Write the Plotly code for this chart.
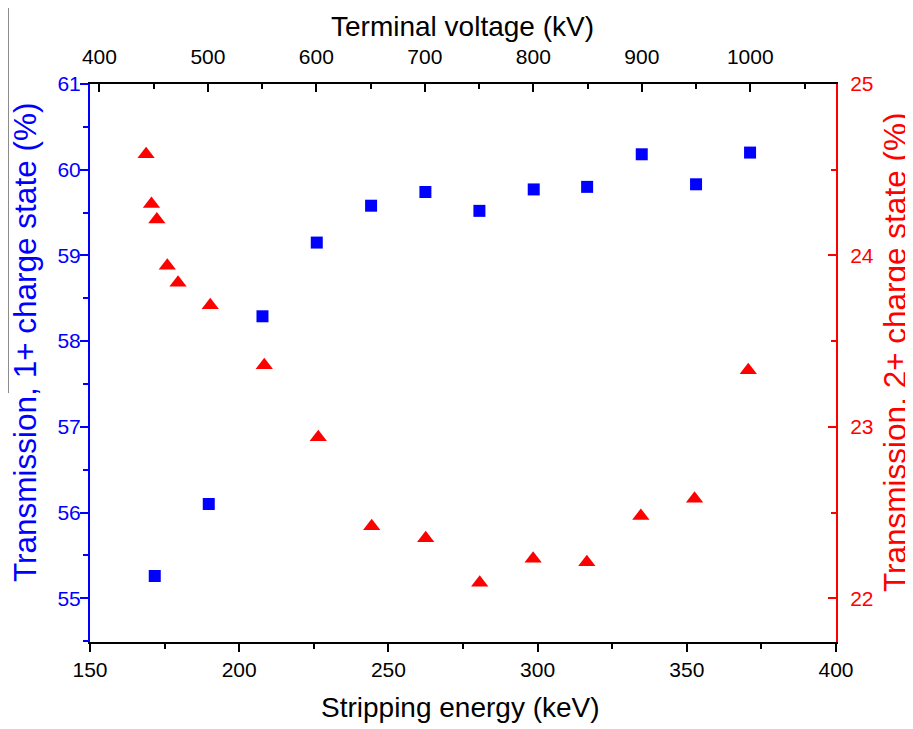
import plotly.graph_objects as go

# Data
energy_1p = [171.7, 189.8, 207.8, 226.0, 244.2, 262.4, 280.5, 298.7, 316.6, 334.9, 353.1, 371.2]
trans_1p = [55.26, 56.10, 58.29, 59.15, 59.58, 59.74, 59.52, 59.77, 59.80, 60.18, 59.83, 60.20]
terminal_voltage = [450, 500, 550, 600, 650, 700, 750, 800, 850, 900, 950, 1000]

energy_2p = [168.8, 170.6, 172.4, 175.9, 179.5, 190.3, 208.4, 226.5, 244.4, 262.5, 280.6,
             298.5, 316.5, 334.6, 352.6, 370.6]
trans_2p = [24.59, 24.30, 24.21, 23.94, 23.84, 23.71, 23.36, 22.94, 22.42, 22.35, 22.09,
            22.23, 22.21, 22.48, 22.58, 23.33]

title_bottom = "Stripping energy (keV)"
title_top = "Terminal voltage (kV)"
title_left = "Transmission, 1+ charge state (%)"
title_right = "Transmission, 2+ charge state (%)"

FONT = "Liberation Sans, Arial, sans-serif"
BLUE = "#0000FF"
RED = "#FF0000"

# The page body has an 8px margin: lay the figure out in page pixels, then offset.
OFF = 8
W, H = 913 - OFF, 729 - OFF
PL, PR, PT, PB = 90, 836, 84, 642          # plot area in page pixels
L, R, T, B = PL - OFF, W - (PR - OFF), PT - OFF, H - (PB - OFF)
PW, PH = W - L - R, H - T - B


def px_to_paper_x(px):
    return (px - OFF - L) / PW


def px_to_paper_y(py):
    return (H - B - (py - OFF)) / PH


fig = go.Figure()
fig.add_trace(go.Scatter(x=energy_1p, y=trans_1p, mode="markers", xaxis="x", yaxis="y",
                         marker=dict(symbol="square", size=12, color=BLUE), showlegend=False))
fig.add_trace(go.Scatter(x=energy_2p, y=trans_2p, mode="markers", xaxis="x", yaxis="y2",
                         marker=dict(symbol="triangle-up", size=15, color=RED), showlegend=False))
# invisible trace so the top (terminal voltage) axis is drawn
fig.add_trace(go.Scatter(x=terminal_voltage, y=trans_1p, mode="markers", xaxis="x2", yaxis="y",
                         marker=dict(opacity=0), hoverinfo="skip", showlegend=False))

tick_common = dict(showgrid=False, zeroline=False, automargin=False, showline=True,
                   linewidth=2, tickwidth=2, ticklen=8)

fig.update_layout(
    width=W, height=H,
    margin=dict(l=L, r=R, t=T, b=B),
    plot_bgcolor="white", paper_bgcolor="white",
    font=dict(family=FONT, color="black"),
    xaxis=dict(
        range=[150, 400], dtick=50, tick0=150, linecolor="black",
        ticks="outside", tickcolor="black",
        minor=dict(dtick=25, ticks="outside", ticklen=5, tickwidth=2, tickcolor="black"),
        tickfont=dict(size=21, color="black"), **tick_common,
    ),
    xaxis2=dict(
        overlaying="x", side="top", anchor="y",
        range=[391.3, 1079], tick0=400, dtick=100, linecolor="black",
        ticks="inside", tickcolor="black", ticklabelstandoff=10,
        minor=dict(dtick=50, ticks="inside", ticklen=5, tickwidth=2, tickcolor="black"),
        tickfont=dict(size=21, color="black"), **tick_common,
    ),
    yaxis=dict(
        range=[54.49, 61], dtick=1, tick0=55, linecolor=BLUE,
        ticks="outside", tickcolor=BLUE, ticklabelstandoff=-5,
        minor=dict(dtick=0.5, ticks="outside", ticklen=5, tickwidth=2, tickcolor=BLUE),
        tickfont=dict(size=21, color=BLUE), **tick_common,
    ),
    yaxis2=dict(
        overlaying="y", side="right", anchor="x",
        range=[21.745, 25], dtick=1, tick0=22, linecolor=RED,
        ticks="inside", tickcolor=RED, ticklabelstandoff=8,
        minor=dict(dtick=0.5, ticks="inside", ticklen=5, tickwidth=2, tickcolor=RED),
        tickfont=dict(size=21, color=RED), **tick_common,
    ),
    annotations=[
        dict(text=title_bottom, xref="paper", yref="paper", x=px_to_paper_x(460), y=px_to_paper_y(708),
             xanchor="center", yanchor="middle", showarrow=False, font=dict(size=28, color="black")),
        dict(text=title_top, xref="paper", yref="paper", x=px_to_paper_x(462), y=px_to_paper_y(26),
             xanchor="center", yanchor="middle", showarrow=False, font=dict(size=28, color="black")),
        dict(text=title_left, xref="paper", yref="paper", x=px_to_paper_x(25), y=px_to_paper_y(343),
             xanchor="center", yanchor="middle", showarrow=False, textangle=-90,
             font=dict(size=31.5, color=BLUE)),
        dict(text=title_right, xref="paper", yref="paper", x=px_to_paper_x(895), y=px_to_paper_y(353),
             xanchor="center", yanchor="middle", showarrow=False, textangle=-90,
             font=dict(size=31.5, color=RED)),
    ],
    shapes=[dict(type="line", xref="paper", yref="paper",
                 x0=px_to_paper_x(8), x1=px_to_paper_x(8), y0=px_to_paper_y(393), y1=px_to_paper_y(0),
                 line=dict(color="#666666", width=1.5))],
)

fig.write_html("out.html")
